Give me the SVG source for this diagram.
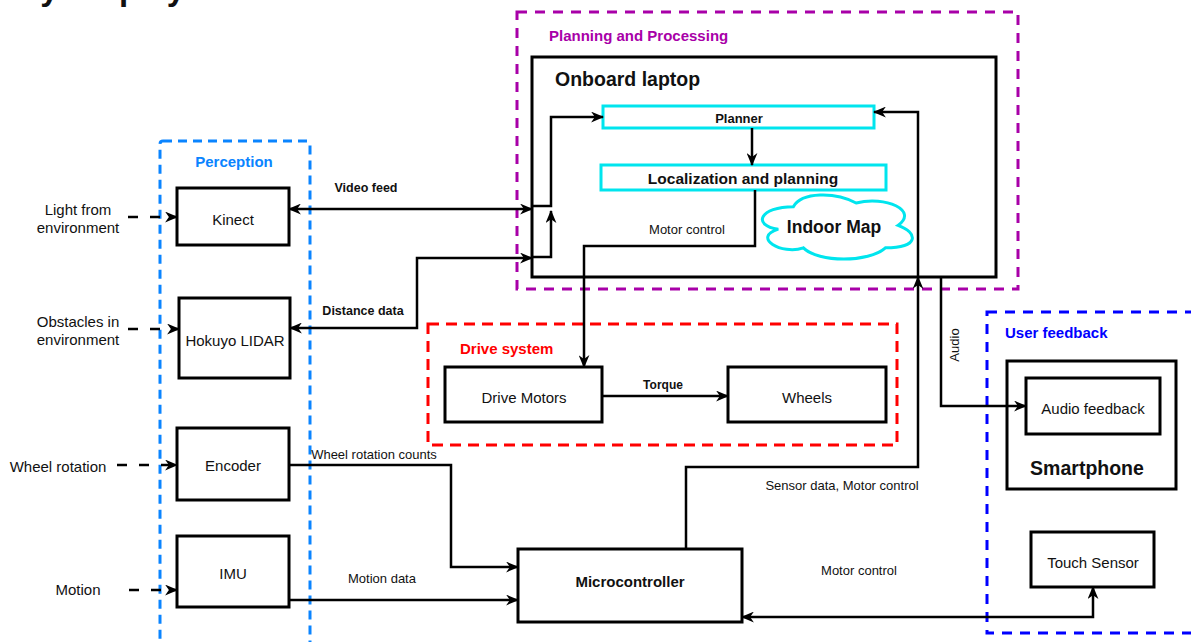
<svg xmlns="http://www.w3.org/2000/svg" width="1191" height="642" viewBox="0 0 1191 642">
<style>
  text { font-family: "Liberation Sans", Arial, sans-serif; fill: #111; }
  .box { fill: #fff; stroke: #000; stroke-width: 3; }
  .cyan { fill: #fff; stroke: #00E5EE; stroke-width: 3; }
  .node { font-size: 15px; text-anchor: middle; dominant-baseline: central; }
  .bold { font-weight: bold; }
  .lbl { font-size: 13px; text-anchor: middle; dominant-baseline: central; }
  .conn { fill: none; stroke: #000; stroke-width: 2.5; }
  .dash { fill: none; stroke: #000; stroke-width: 2.5; stroke-dasharray: 10 12; }
  .grp { fill: none; stroke-width: 3; }
</style>
<defs>
  <marker id="arr" viewBox="0 0 12 10" refX="11" refY="5" markerWidth="13" markerHeight="11" markerUnits="userSpaceOnUse" orient="auto-start-reverse">
    <path d="M0,0 L12,5 L0,10 L3.5,5 z" fill="#000"/>
  </marker>
</defs>
<rect width="1191" height="642" fill="#fff"/>

<!-- cut-off title (only its descenders are visible, as in the reference) -->
<text x="-2" y="0" font-size="33" font-weight="bold">Key Display</text>

<!-- groups -->
<g id="perception">
  <rect class="grp" x="160" y="141" width="150" height="530" rx="3" stroke="#0A84FF" stroke-dasharray="9 6"/>
  <text x="234" y="161" font-size="15" font-weight="bold" text-anchor="middle" dominant-baseline="central" style="fill:#0A84FF">Perception</text>
</g>
<g id="planning">
  <rect class="grp" x="517" y="12" width="501" height="277" stroke="#A800A8" stroke-dasharray="10 8"/>
  <text x="549" y="35" font-size="15" font-weight="bold" dominant-baseline="central" style="fill:#A800A8">Planning and Processing</text>
</g>
<g id="drive-system">
  <rect class="grp" x="428" y="324" width="469" height="121" stroke="#FF0000" stroke-dasharray="11 7"/>
  <text x="460" y="348" font-size="15" font-weight="bold" dominant-baseline="central" style="fill:#FF0000">Drive system</text>
</g>
<g id="user-feedback">
  <rect class="grp" x="987" y="312" width="230" height="321" stroke="#0000FF" stroke-dasharray="10 8"/>
  <text x="1005" y="332" font-size="15" font-weight="bold" dominant-baseline="central" style="fill:#0000FF">User feedback</text>
</g>

<!-- nodes -->
<g id="laptop">
  <rect class="box" x="532" y="57" width="464" height="220"/>
  <text x="555" y="79" font-size="19.5" font-weight="bold" dominant-baseline="central">Onboard laptop</text>
</g>
<g id="planner">
  <rect class="cyan" x="603" y="106" width="271" height="22"/>
  <text class="node bold" x="739" y="118" style="font-size:13px">Planner</text>
</g>
<g id="localization">
  <rect class="cyan" x="601" y="165" width="285" height="25"/>
  <text class="node bold" x="743" y="178" style="font-size:15.5px">Localization and planning</text>
</g>
<g id="indoor-map">
  <path d="M793.35,206.7 C759.87,206.7 751.5,225.4 778.28,229.14 C751.5,237.37 781.63,255.32 803.39,247.84 C818.46,262.8 868.68,262.8 885.42,247.84 C918.9,247.84 918.9,232.88 897.98,225.4 C918.9,210.44 885.42,195.48 856.13,202.96 C835.2,191.74 801.72,191.74 793.35,206.7 Z" fill="#fff" stroke="#00E5EE" stroke-width="3"/>
  <text class="node bold" x="834" y="227" style="font-size:17.5px">Indoor Map</text>
</g>
<g id="kinect">
  <rect class="box" x="177" y="188" width="112" height="57"/>
  <text class="node" x="233" y="219">Kinect</text>
</g>
<g id="lidar">
  <rect class="box" x="179" y="298" width="111" height="80"/>
  <text class="node" x="235" y="340">Hokuyo LIDAR</text>
</g>
<g id="encoder">
  <rect class="box" x="177" y="428" width="112" height="72"/>
  <text class="node" x="233" y="465">Encoder</text>
</g>
<g id="imu">
  <rect class="box" x="177" y="536" width="112" height="71"/>
  <text class="node" x="233" y="573">IMU</text>
</g>
<g id="drive-motors">
  <rect class="box" x="445" y="367" width="157" height="55"/>
  <text class="node" x="524" y="397">Drive Motors</text>
</g>
<g id="wheels">
  <rect class="box" x="728" y="367" width="158" height="55"/>
  <text class="node" x="807" y="397">Wheels</text>
</g>
<g id="microcontroller">
  <rect class="box" x="518" y="549" width="224" height="73"/>
  <text class="node bold" x="630" y="581">Microcontroller</text>
</g>
<g id="smartphone">
  <rect class="box" x="1007" y="361" width="169" height="128"/>
  <text class="node bold" x="1087" y="468" style="font-size:19.5px">Smartphone</text>
</g>
<g id="audio-feedback">
  <rect class="box" x="1026" y="378" width="134" height="56"/>
  <text class="node" x="1093" y="408">Audio feedback</text>
</g>
<g id="touch-sensor">
  <rect class="box" x="1031" y="532" width="123" height="55"/>
  <text class="node" x="1093" y="562">Touch Sensor</text>
</g>

<!-- environment inputs -->
<g id="inputs">
  <text class="node" x="78" y="209">Light from</text>
  <text class="node" x="78" y="227">environment</text>
  <text class="node" x="78" y="321">Obstacles in</text>
  <text class="node" x="78" y="339">environment</text>
  <text class="node" x="58" y="466">Wheel rotation</text>
  <text class="node" x="78" y="589">Motion</text>
</g>

<!-- connectors -->
<g id="connectors">
  <path class="dash" d="M128,217 H177" marker-end="url(#arr)"/>
  <path class="dash" d="M128,329 H179" marker-end="url(#arr)"/>
  <path class="dash" d="M117,465 H177" marker-end="url(#arr)"/>
  <path class="dash" d="M129,590 H177" marker-end="url(#arr)"/>

  <path class="conn" d="M289,209 H532" marker-start="url(#arr)" marker-end="url(#arr)"/>
  <path class="conn" d="M290,328 H417 V258 H532" marker-start="url(#arr)" marker-end="url(#arr)"/>
  <path class="conn" d="M533,206 H551 V117 H603" marker-end="url(#arr)"/>
  <path class="conn" d="M533,257 H551 V211" marker-end="url(#arr)"/>
  <path class="conn" d="M752,128 V165" marker-end="url(#arr)"/>
  <path class="conn" d="M755,190 V246 H584 V367" marker-end="url(#arr)"/>
  <path class="conn" d="M602,396 H728" marker-end="url(#arr)"/>
  <path class="conn" d="M289,465 H451 V567 H518" marker-end="url(#arr)"/>
  <path class="conn" d="M289,600 H518" marker-end="url(#arr)"/>
  <path class="conn" d="M686,549 V467 H918 V277" marker-end="url(#arr)"/>
  <path class="conn" d="M918,277 V112 H874" marker-end="url(#arr)"/>
  <path class="conn" d="M941,277 V406 H1026" marker-end="url(#arr)"/>
  <path class="conn" d="M742,617 H1093 V587" marker-start="url(#arr)" marker-end="url(#arr)"/>

  <text class="lbl bold" x="366" y="188" style="font-size:12.5px">Video feed</text>
  <text class="lbl bold" x="363" y="311" style="font-size:12.5px">Distance data</text>
  <text class="lbl" x="687" y="229">Motor control</text>
  <text class="lbl bold" x="663" y="385" style="font-size:12px">Torque</text>
  <text class="lbl" x="374" y="454">Wheel rotation counts</text>
  <text class="lbl" x="382" y="578">Motion data</text>
  <text class="lbl" x="842" y="485">Sensor data, Motor control</text>
  <text class="lbl" x="859" y="570">Motor control</text>
  <text class="lbl" x="0" y="0" transform="translate(954,345) rotate(-90)">Audio</text>
</g>
</svg>
